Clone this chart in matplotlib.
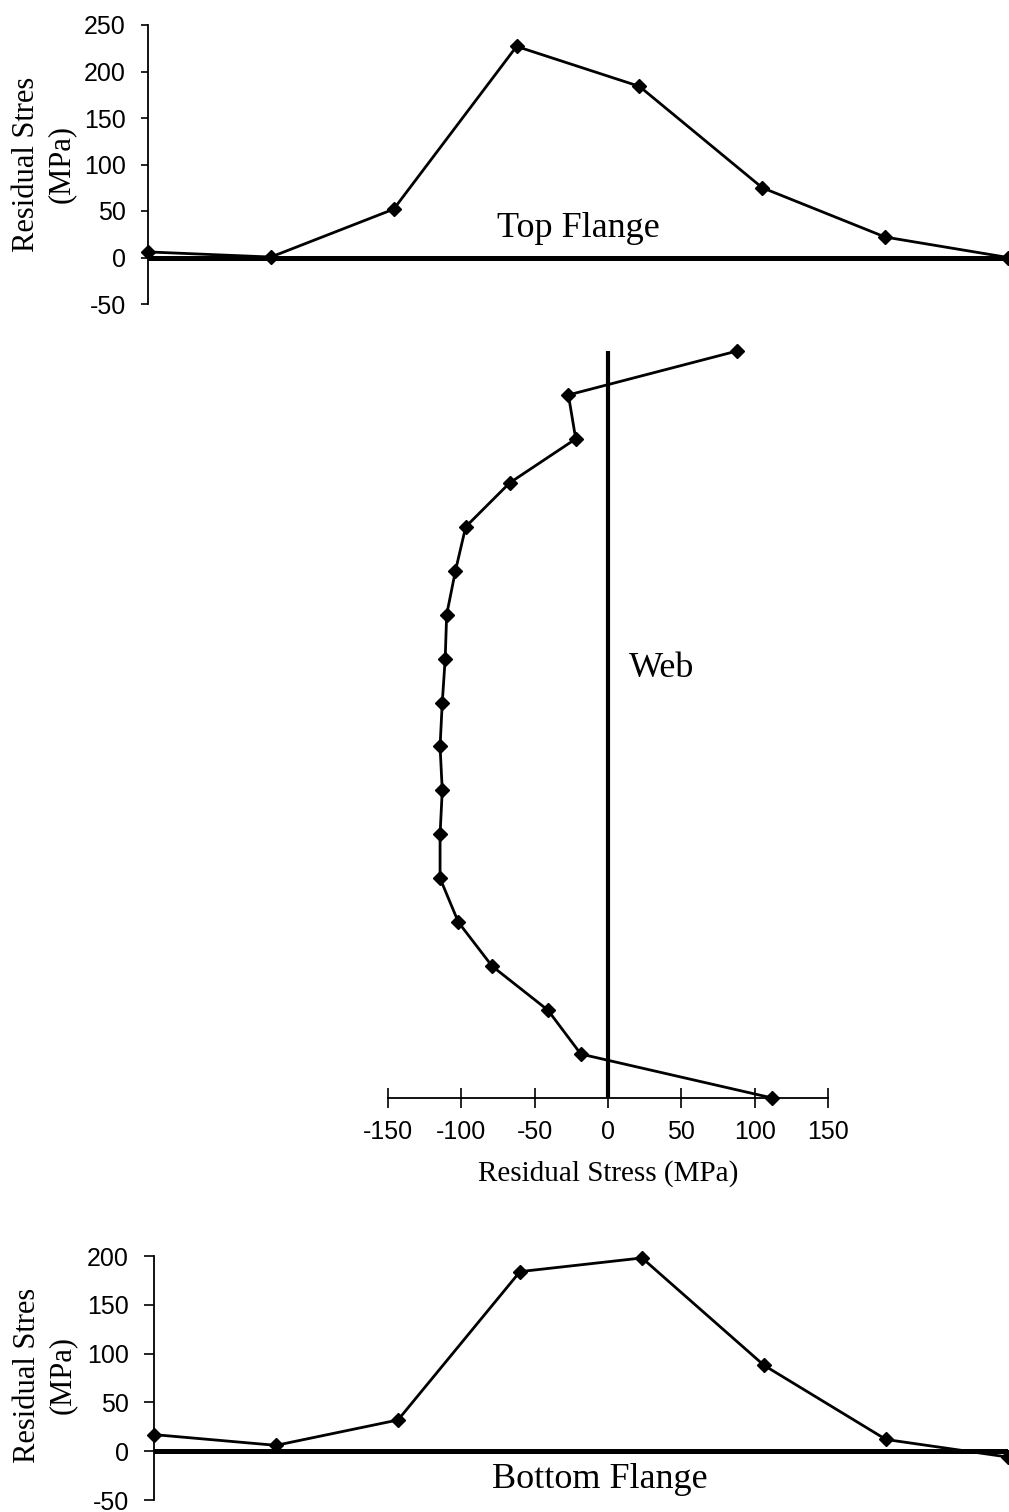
import matplotlib
matplotlib.use("Agg")
import matplotlib.pyplot as plt

plt.rcParams["axes.unicode_minus"] = False

# measurement positions across the flanges (equal spacing)
flange_pos = [0, 1, 2, 3, 4, 5, 6, 7]
top_flange = [6, 0.5, 52, 227, 184, 75, 22, 0]
bottom_flange = [17, 6, 32, 184, 198, 88, 12, -6]

# web readings, listed from bottom of web to top
web_pos = [0, 1, 2, 3, 4, 5, 6, 7, 8, 9, 10, 11, 12, 13, 14, 15, 16, 17]
web_stress = [112, -18.5, -41, -79, -102, -114.5, -114.5, -113, -114.5,
              -113, -111, -110, -104, -97, -67, -22, -27, 88]

web_ticks = [-150, -100, -50, 0, 50, 100, 150]
top_ticks = [-50, 0, 50, 100, 150, 200, 250]
bot_ticks = [-50, 0, 50, 100, 150, 200]

W, H = 1009, 1512
fig = plt.figure(figsize=(W / 100, H / 100), dpi=100)
fig.patch.set_facecolor("white")

sans = "Liberation Sans"
serif = "Liberation Serif"


def box(x0, y0, x1, y1):
    # pixel box (top-left origin) -> figure fraction rect
    return [x0 / W, 1 - y1 / H, (x1 - x0) / W, (y1 - y0) / H]


def flange(ax, vals, ticks, ylim):
    ax.plot(flange_pos, vals, color="black", lw=2, marker="D", ms=7.5, zorder=3,
            clip_on=False)
    ax.axhline(0, color="black", lw=3.6, zorder=2)
    ax.set_xlim(0, 7)
    ax.set_ylim(*ylim)
    ax.set_yticks(ticks)
    ax.set_xticks([])
    for s in ("top", "right", "bottom"):
        ax.spines[s].set_visible(False)
    ax.spines["left"].set_linewidth(1.3)
    ax.tick_params(axis="y", direction="out", length=5, width=1.2, pad=11, labelsize=18)
    for t in ax.get_yticklabels():
        t.set_fontfamily(sans)
    ax.patch.set_alpha(0)


# top flange
ax1 = fig.add_axes(box(148, 25, 1008, 304))
flange(ax1, top_flange, top_ticks, (-50, 250))
fig.text(578 / W, 1 - 237 / H, "Top Flange", family=serif, fontsize=26,
         ha="center", va="baseline")
fig.text(44 / W, 1 - 164 / H, "Residual Stres\n(MPa)", family=serif, fontsize=22,
         rotation=90, ha="center", va="center", multialignment="center", linespacing=1.3)

# bottom flange
ax3 = fig.add_axes(box(154, 1256, 1008, 1500))
flange(ax3, bottom_flange, bot_ticks, (-50, 200))
ax3.tick_params(axis="y", length=7)
fig.text(600 / W, 1 - 1488 / H, "Bottom Flange", family=serif, fontsize=26,
         ha="center", va="baseline")
fig.text(45 / W, 1 - 1375 / H, "Residual Stres\n(MPa)", family=serif, fontsize=22,
         rotation=90, ha="center", va="center", multialignment="center", linespacing=1.3)

# web
ax2 = fig.add_axes(box(388, 351, 828, 1098))
ax2.plot(web_stress, web_pos, color="black", lw=2, marker="D", ms=7.5, zorder=3,
         clip_on=False)
ax2.axvline(0, ymin=0, ymax=1.002, color="black", lw=3, zorder=2)
ax2.set_xlim(-150, 150)
ax2.set_ylim(0, 17)
ax2.set_xticks(web_ticks)
ax2.set_yticks([])
for s in ("top", "right", "left"):
    ax2.spines[s].set_visible(False)
ax2.spines["bottom"].set_linewidth(1.3)
ax2.tick_params(axis="x", direction="inout", length=15, width=1.2, pad=8, labelsize=18)
for t in ax2.get_xticklabels():
    t.set_fontfamily(sans)
ax2.set_xlabel("Residual Stress (MPa)", family=serif, fontsize=21, labelpad=12)
ax2.patch.set_alpha(0)
fig.text(662 / W, 1 - 677 / H, "Web", family=serif, fontsize=26,
         ha="center", va="baseline")

fig.savefig("out.png", dpi=100, facecolor="white")
